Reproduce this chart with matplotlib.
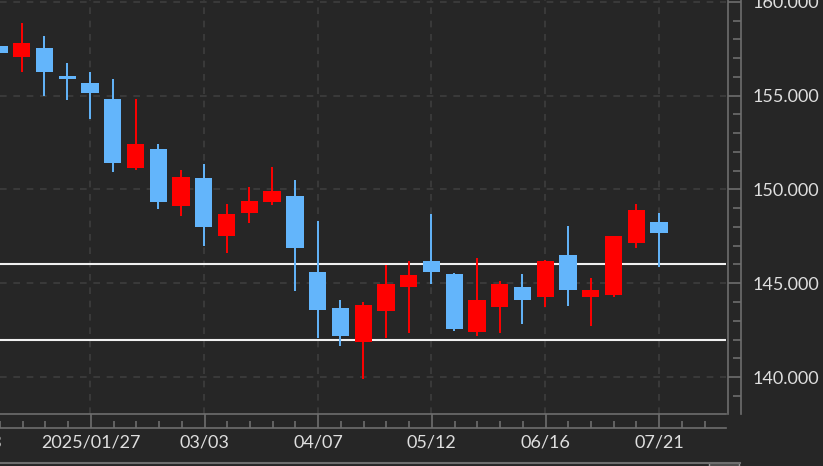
import matplotlib
matplotlib.use("Agg")
import matplotlib.pyplot as plt
from matplotlib.patches import Rectangle

# dane - tygodniowe swiece
daty = ['12/30', '01/06', '01/13', '01/20', '2025/01/27', '02/03', '02/10', '02/17',
        '02/24', '03/03', '03/10', '03/17', '03/24', '03/31', '04/07', '04/14',
        '04/21', '04/28', '05/05', '05/12', '05/19', '05/26', '06/02', '06/09',
        '06/16', '06/23', '06/30', '07/07', '07/14', '07/21']
otwarcie = [157.65, 157.07, 157.55, 156.05, 155.68, 154.83, 151.15, 152.16,
            149.12, 150.61, 147.52, 148.75, 149.33, 149.65, 145.60, 143.68,
            141.87, 143.52, 144.80, 146.19, 145.49, 142.40, 143.73, 144.80,
            144.27, 146.51, 144.27, 144.37, 147.15, 148.27]
maks = [158.08, 158.88, 158.19, 156.75, 156.27, 155.89, 154.83, 152.43,
        151.04, 151.36, 149.23, 150.13, 151.20, 150.51, 148.32, 144.11,
        144.00, 145.97, 146.19, 148.69, 145.55, 146.35, 145.12, 145.49,
        146.24, 148.05, 145.28, 147.52, 149.23, 148.75]
min_ = [156.00, 156.27, 154.99, 154.77, 153.76, 150.93, 151.05, 148.96,
        148.59, 146.99, 146.61, 148.21, 149.17, 144.59, 142.08, 141.65,
        139.89, 142.08, 142.35, 144.96, 142.45, 142.19, 142.35, 142.83,
        143.73, 143.79, 142.72, 144.27, 146.88, 145.87]
zamkniecie = [157.28, 157.81, 156.27, 155.89, 155.15, 151.41, 152.43, 149.33,
              150.67, 148.00, 148.69, 149.39, 149.92, 146.88, 143.57, 142.19,
              143.84, 144.96, 145.44, 145.60, 142.56, 144.11, 144.96, 144.11,
              146.19, 144.64, 144.64, 147.52, 148.91, 147.68]
linie_poziome = [146.0, 142.0]
etykiety_x = {-1: '12/23', 4: '2025/01/27', 9: '03/03', 14: '04/07',
              19: '05/12', 24: '06/16', 29: '07/21'}

# kolory
TLO = '#262626'
CZERWONY = '#ff0000'
NIEBIESKI = '#63b5fb'
SIATKA = '#3d3d3d'
OS = '#6e6e6e'
TEKST = '#dedede'

plt.rcParams['font.family'] = ['Lato', 'DejaVu Sans']

W, H = 823, 466
fig = plt.figure(figsize=(W / 100, H / 100), dpi=100)
fig.patch.set_facecolor(TLO)

def px(x0, y0, x1, y1):
    # prostokat w pikselach (od gory) -> wspolrzedne figury
    return [x0 / W, 1 - y1 / H, (x1 - x0) / W, (y1 - y0) / H]

xlim = (0.046, 31.94)
ylim = (138.03, 160.1)

ax = fig.add_axes(px(0, 0, 726, 414))
ax.set_facecolor(TLO)
ax.set_xlim(*xlim)
ax.set_ylim(*ylim)
for s in ax.spines.values():
    s.set_visible(False)
ax.set_xticks([k for k in etykiety_x if k >= 0])
ax.set_yticks([140, 145, 150, 155, 160])
ax.tick_params(length=0, labelbottom=False, labelleft=False)
ax.grid(True, color=SIATKA, linestyle=(0, (4, 4)), linewidth=1.2)
ax.set_axisbelow(True)

for h in linie_poziome:
    ax.axhline(h, color='#f0f0f0', linewidth=1.5, zorder=2)

for i in range(len(daty)):
    o, hi, lo, c = otwarcie[i], maks[i], min_[i], zamkniecie[i]
    kolor = CZERWONY if c >= o else NIEBIESKI
    ax.vlines(i, lo, hi, color=kolor, linewidth=1.4, zorder=3)
    ax.bar(i, max(abs(c - o), 0.12), bottom=min(o, c), width=0.76,
           color=kolor, edgecolor=kolor, linewidth=0, zorder=4)

# skala cen po prawej
ax_r = fig.add_axes(px(728, 0, 741, 414))
ax_r.set_facecolor(TLO)
ax_r.set_ylim(*ylim)
ax_r.set_xticks([])
for k in ['top', 'bottom']:
    ax_r.spines[k].set_visible(False)
for k in ['left', 'right']:
    ax_r.spines[k].set_color(OS)
    ax_r.spines[k].set_linewidth(1.2)
ax_r.yaxis.tick_right()
ax_r.set_yticks([140, 145, 150, 155, 160])
ax_r.set_yticklabels(['140.000', '145.000', '150.000', '155.000', '160.000'])
ax_r.set_yticks([y for y in range(139, 161) if y % 5], minor=True)
ax_r.tick_params(axis='y', which='major', direction='in', length=9.4,
                 width=1.2, color=OS, labelcolor=TEKST, labelsize=13, pad=8)
ax_r.tick_params(axis='y', which='minor', direction='in', length=5.5,
                 width=1.2, color=OS)

# os czasu na dole
ax_b = fig.add_axes(px(0, 414, 726, 428))
ax_b.set_facecolor(TLO)
ax_b.set_xlim(*xlim)
ax_b.set_yticks([])
for k in ['left', 'right']:
    ax_b.spines[k].set_visible(False)
for k in ['top', 'bottom']:
    ax_b.spines[k].set_color(OS)
    ax_b.spines[k].set_linewidth(1.2)
ax_b.set_xticks([k for k in etykiety_x if k >= 0])
ax_b.set_xticklabels([v for k, v in etykiety_x.items() if k >= 0])
ax_b.set_xticks(range(0, 32), minor=True)
ax_b.tick_params(axis='x', which='major', direction='in', length=10,
                 width=1.2, color=OS, labelcolor=TEKST, labelsize=13, pad=5)
ax_b.tick_params(axis='x', which='minor', direction='in', length=5,
                 width=1.2, color=OS)
# ucieta etykieta po lewej
ax_b.text(-1, -1.0, etykiety_x[-1], transform=ax_b.get_xaxis_transform(),
          ha='center', va='center', color=TEKST, fontsize=13, clip_on=False)

# pasek przewijania
fig.add_artist(plt.Line2D([0, 740 / W], [1 - 463 / H] * 2, color=OS,
                          linewidth=1.5, transform=fig.transFigure))
fig.add_artist(Rectangle((709 / W, 0), 30 / W, 3.5 / H, transform=fig.transFigure,
                         facecolor='#3a3a3a', edgecolor='#9a9a9a', linewidth=1))

fig.savefig('out.png', dpi=100, facecolor=TLO)
